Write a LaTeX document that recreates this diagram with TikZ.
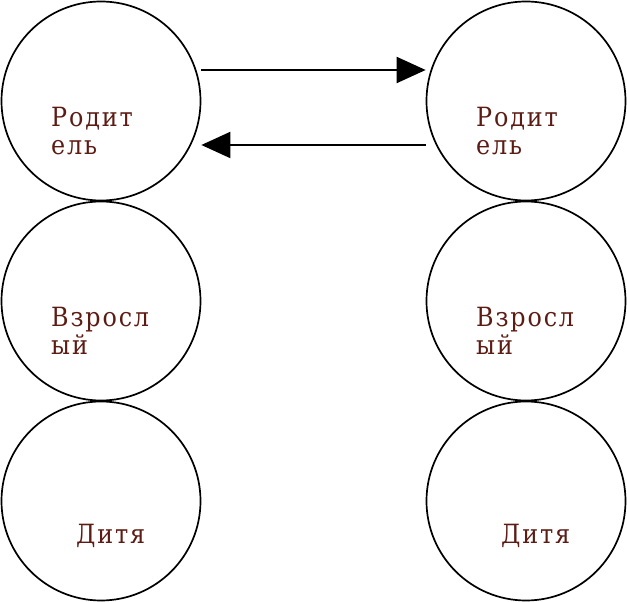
\documentclass[tikz,border=0pt]{standalone}
\usepackage{fontspec}
\setmainfont{DejaVu Serif Condensed}[LetterSpace=7]
\usetikzlibrary{arrows.meta}
\definecolor{egobrown}{RGB}{92,28,20}
\newcommand{\egofont}{\fontsize{26.5}{28}\selectfont}
\tikzset{
  egostates/.style={x=1pt, y=1pt},
  % one ego state
  ego/.style={circle, draw=black, line width=1.7pt, minimum size=199pt, inner sep=0pt},
  % the name written in it
  egolabel/.style={font=\egofont, text=egobrown, align=left, inner sep=0pt, anchor=base west},
  % a transaction between the two people
  trans/.style={draw=black, line width=2pt, -{Triangle[length=29pt,width=26pt]}},
}
\newcommand{\eg}[3]{\node[ego] (#1) at (#2,#3) {};}
\newcommand{\el}[4]{\node[egolabel] (#1) at (#2,#3) {#4};}

\begin{document}
\begin{tikzpicture}[egostates]
  \useasboundingbox (0,0) rectangle (627,602);
  % left person
  \eg{lp}{101}{501}
  \eg{la}{101}{301}
  \eg{lc}{101}{101}
  % right person
  \eg{rp}{526}{501}
  \eg{ra}{526}{301}
  \eg{rc}{526}{101}

  \el{lpt}{51}{447}{Родит\\ель}
  \el{lat}{51}{247}{Взросл\\ый}
  \el{lct}{76}{58}{Дитя}
  \el{rpt}{476}{447}{Родит\\ель}
  \el{rat}{476}{247}{Взросл\\ый}
  \el{rct}{501}{58}{Дитя}

  \draw[trans] ([yshift=31pt]lp.east) -- ([yshift=31pt]rp.west);
  \draw[trans] ([yshift=-44pt]rp.west) -- ([yshift=-44pt]lp.east);
\end{tikzpicture}
\end{document}
